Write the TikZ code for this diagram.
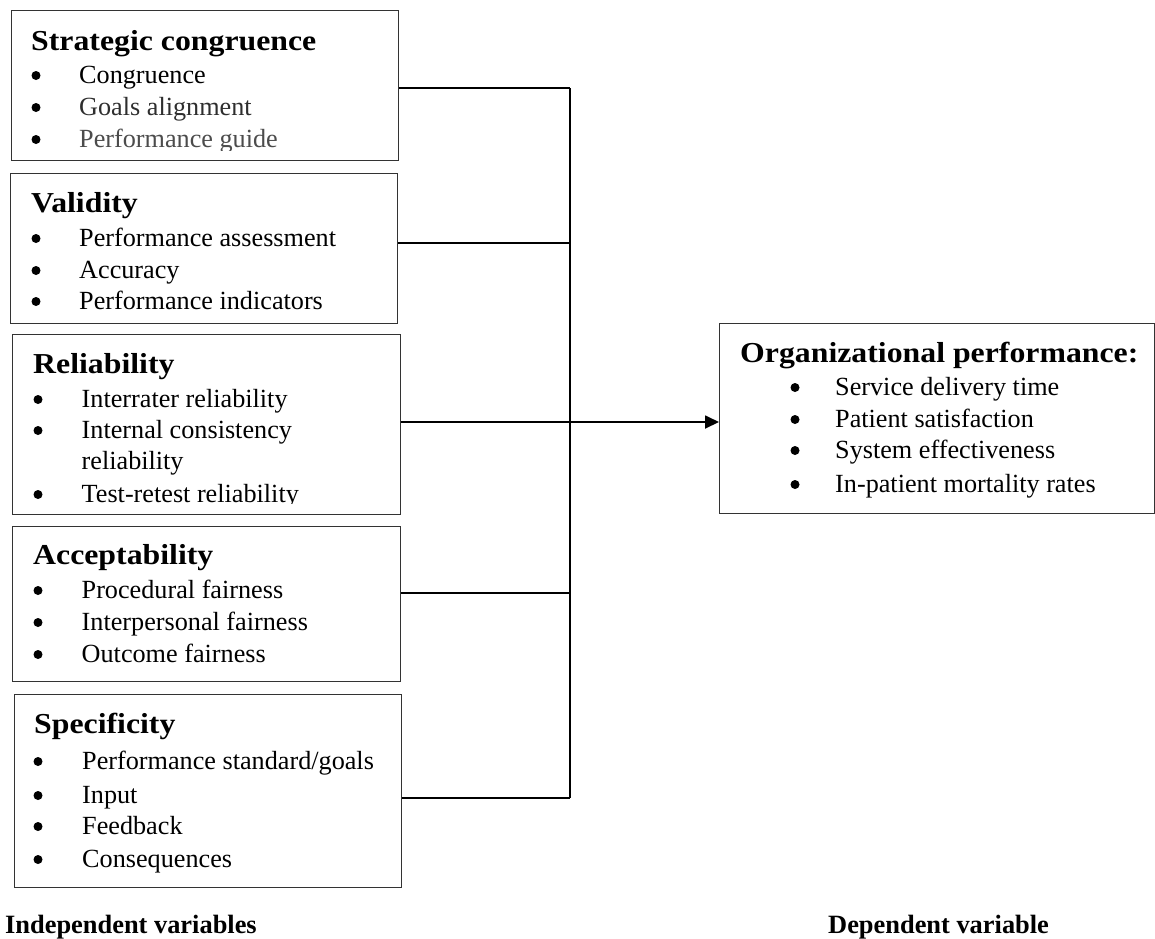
\documentclass[tikz,border=0pt]{standalone}
\usepackage{fontspec}
\setmainfont{Liberation Serif}[BoldFeatures={FakeStretch=1.1}]
\newfontfamily\captionserif{Liberation Serif}
\usetikzlibrary{arrows.meta}
\begin{document}
\begin{tikzpicture}[x=1pt,y=-1pt,
  box/.style={draw=black!80,line width=1.1pt,anchor=north west,inner sep=0pt},
  head/.style={anchor=base west,inner sep=0pt,font=\fontsize{28.9}{34}\selectfont\bfseries},
  item/.style={anchor=base west,inner sep=0pt,font=\fontsize{26.2}{31}\selectfont},
  dot/.style={circle,fill=black,inner sep=0pt,minimum size=9pt,yshift=7.5pt},
  foot/.style={anchor=base west,inner sep=0pt,font=\captionserif\fontsize{26.4}{31}\selectfont\bfseries},
  link/.style={line width=1.8pt,black}]
\fill[white] (0,0) rectangle (1155,938);
\useasboundingbox (0,0) rectangle (1155,938);

% ---- independent variable boxes ----
\node[box,minimum width=387,minimum height=150] (b1) at (11,10) {};
\node[box,minimum width=387,minimum height=150] (b2) at (10,173) {};
\node[box,minimum width=388,minimum height=180] (b3) at (12,334) {};
\node[box,minimum width=388,minimum height=155] (b4) at (12,526) {};
\node[box,minimum width=387,minimum height=193] (b5) at (14,694) {};

% Strategic congruence
\node[head] (t1) at (31,50) {Strategic congruence};
\node[dot] (d11) at (36,83) {};
\node[item] (i11) at (79,83) {Congruence};
\node[dot] (d12) at (36,115) {};
\node[item,text=black!82] (i12) at (79,115) {Goals alignment};
\node[dot] (d13) at (36,147) {};
\begin{scope}
  \clip (0,0) rectangle (400,150);
  \node[item,text=black!70] (i13) at (79,147) {Performance guide};
\end{scope}

% Validity
\node[head] (t2) at (31,212) {Validity};
\node[dot] (d21) at (36,246) {};
\node[item] (i21) at (79,246) {Performance assessment};
\node[dot] (d22) at (36,278) {};
\node[item] (i22) at (79,278) {Accuracy};
\node[dot] (d23) at (36,309) {};
\node[item] (i23) at (79,309) {Performance indicators};

% Reliability
\node[head] (t3) at (33,373) {Reliability};
\node[dot] (d31) at (38,407) {};
\node[item] (i31) at (81.5,407) {Interrater reliability};
\node[dot] (d32) at (38,438) {};
\node[item] (i32) at (81.5,438) {Internal consistency};
\node[item] (i32b) at (81.5,469) {reliability};
\node[dot] (d33) at (38,502) {};
\begin{scope}
  \clip (0,0) rectangle (400,503);
  \node[item] (i33) at (81.5,502) {Test-retest reliability};
\end{scope}

% Acceptability
\node[head] (t4) at (33,564) {Acceptability};
\node[dot] (d41) at (38,598) {};
\node[item] (i41) at (81.5,598) {Procedural fairness};
\node[dot] (d42) at (38,630) {};
\node[item] (i42) at (81.5,630) {Interpersonal fairness};
\node[dot] (d43) at (38,662) {};
\node[item] (i43) at (81.5,662) {Outcome fairness};

% Specificity
\node[head] (t5) at (34,733) {Specificity};
\node[dot] (d51) at (38,769) {};
\node[item] (i51) at (82,769) {Performance standard/goals};
\node[dot] (d52) at (38,803) {};
\node[item] (i52) at (82,803) {Input};
\node[dot] (d53) at (38,834) {};
\node[item] (i53) at (82,834) {Feedback};
\node[dot] (d54) at (38,867) {};
\node[item] (i54) at (82,867) {Consequences};

% ---- dependent variable box ----
\node[box,minimum width=435,minimum height=190] (op) at (719,323) {};
\node[head] (to) at (740,362) {Organizational performance:};
\node[dot] (do1) at (795,395) {};
\node[item] (io1) at (835,395) {Service delivery time};
\node[dot] (do2) at (795,427) {};
\node[item] (io2) at (835,427) {Patient satisfaction};
\node[dot] (do3) at (795,458) {};
\node[item] (io3) at (835,458) {System effectiveness};
\node[dot] (do4) at (795,492) {};
\node[item] (io4) at (835,492) {In-patient mortality rates};

% ---- connectors ----
\coordinate (j1) at (570,88);
\coordinate (j2) at (570,243);
\coordinate (j3) at (570,422);
\coordinate (j4) at (570,593);
\coordinate (j5) at (570,798);
\draw[link] (b1.east |- j1) -- (j1);
\draw[link] (b2.east |- j2) -- (j2);
\draw[link] (b3.east |- j3) -- (j3);
\draw[link] (b4.east |- j4) -- (j4);
\draw[link] (b5.east |- j5) -- (j5);
\draw[link] (j1) -- (j5);
\draw[link,-{Triangle[length=14pt,width=13pt]}] (j3) -- (op.west |- j3);

% ---- captions ----
\node[foot] (fi) at (5,933) {Independent variables};
\node[foot] (fd) at (828,933) {Dependent variable};
\end{tikzpicture}
\end{document}
